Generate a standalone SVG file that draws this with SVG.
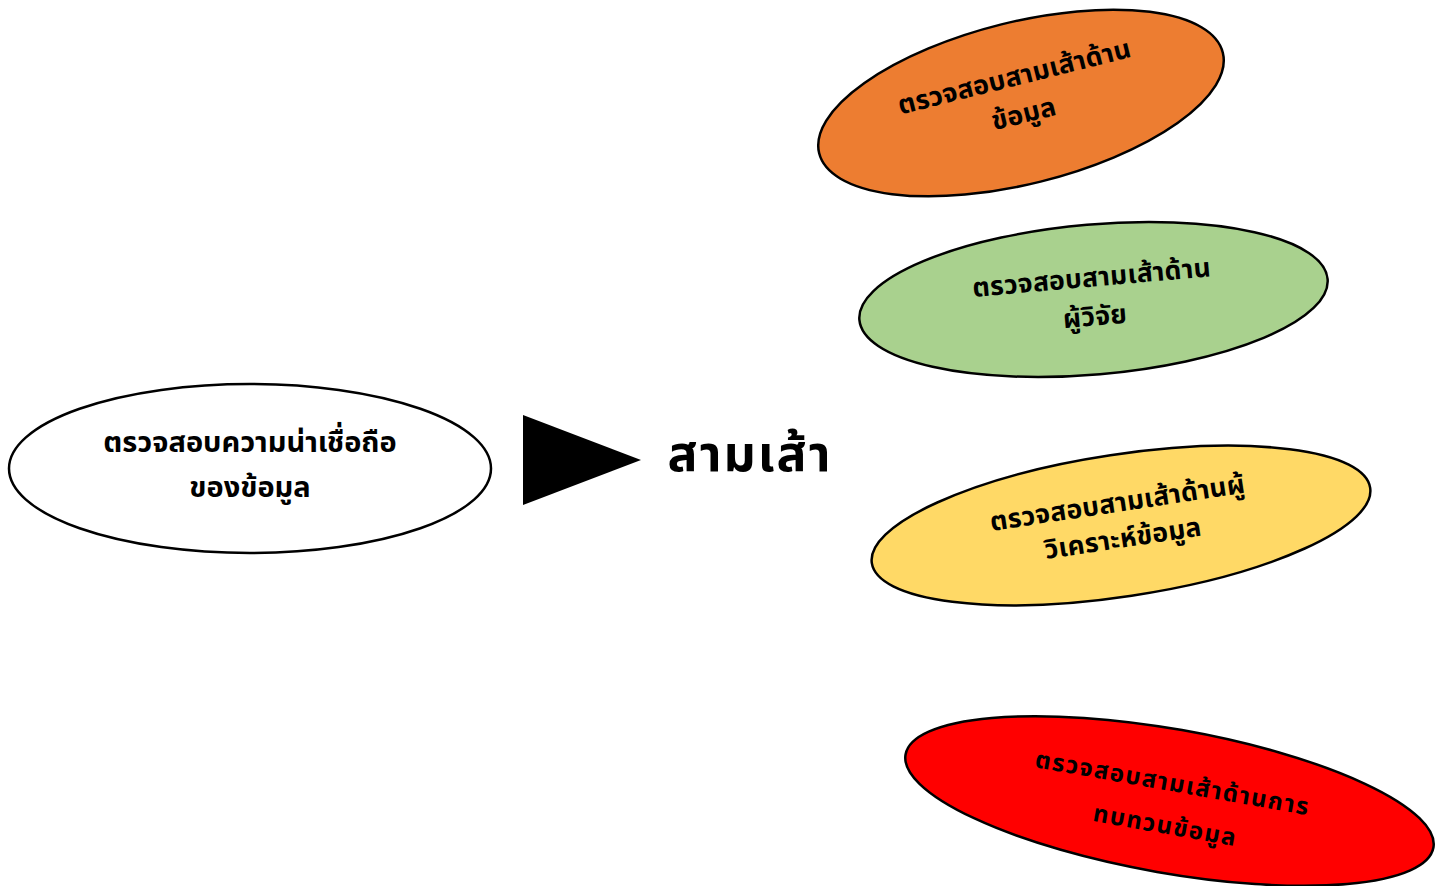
<svg xmlns="http://www.w3.org/2000/svg" width="1446" height="886" viewBox="0 0 1446 886">
<style>
.sh{stroke:#000;stroke-width:2.5}
.t{font-family:"Noto Sans Thai","Noto Sans","DejaVu Sans",sans-serif;font-weight:bold;text-anchor:middle;fill:#000}
.n{font-size:26.5px;letter-spacing:0.3px}
</style>
<rect width="1446" height="886" fill="#fff"/>
<g id="node-main">
<ellipse class="sh" cx="250" cy="468.5" rx="241" ry="84.5" fill="#fff"/>
<text class="t" x="250" y="452" font-size="29">ตรวจสอบความน่าเชื่อถือ</text>
<text class="t" x="250" y="497" font-size="29">ของข้อมูล</text>
</g>
<g id="connectors">
<polygon points="523,415 523,505 641,460" fill="#000"/>
</g>
<g id="node-label">
<text class="t" x="750" y="471" font-size="50" letter-spacing="2">สามเส้า</text>
</g>
<g id="node-data" transform="translate(1021,103) rotate(-14)">
<ellipse class="sh" cx="0" cy="0" rx="208" ry="81" fill="#ED7D31"/>
<text class="t n" x="0" y="-18">ตรวจสอบสามเส้าด้าน</text>
<text class="t n" x="0" y="20">ข้อมูล</text>
</g>
<g id="node-researcher" transform="translate(1093.5,299.5) rotate(-5)">
<ellipse class="sh" cx="0" cy="0" rx="235" ry="75" fill="#A9D18E"/>
<text class="t n" x="0" y="-13">ตรวจสอบสามเส้าด้าน</text>
<text class="t n" x="0" y="26">ผู้วิจัย</text>
</g>
<g id="node-analyst" transform="translate(1121,525.5) rotate(-8.6)">
<ellipse class="sh" cx="0" cy="0" rx="252" ry="71" fill="#FFD966"/>
<text class="t n" x="0" y="-14">ตรวจสอบสามเส้าด้านผู้</text>
<text class="t n" x="0" y="22">วิเคราะห์ข้อมูล</text>
</g>
<g id="node-review" transform="translate(1169.5,801) rotate(10)">
<ellipse class="sh" cx="0" cy="0" rx="268" ry="72" fill="#FF0000"/>
<text class="t" x="0" y="-10" font-size="24" letter-spacing="1.5">ตรวจสอบสามเส้าด้านการ</text>
<text class="t" x="0" y="33" font-size="24" letter-spacing="1.5">ทบทวนข้อมูล</text>
</g>
</svg>
